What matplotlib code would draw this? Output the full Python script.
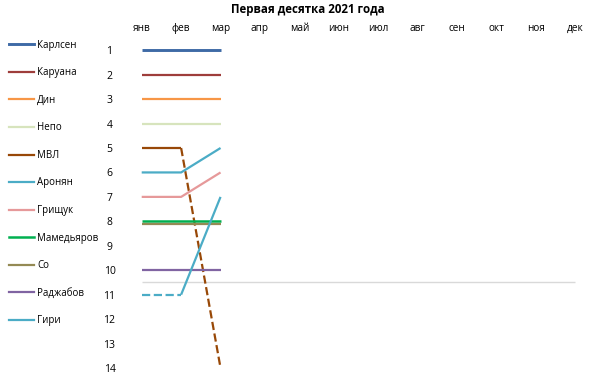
import matplotlib.pyplot as plt
import numpy as np

months = ["янв", "фев", "мар", "апр", "май", "июн", "июл", "авг", "сен", "окт", "ноя", "дек"]
players = ["Карлсен", "Каруана", "Дин", "Непо", "МВЛ", "Аронян", "Грищук",
           "Мамедьяров", "Со", "Раджабов", "Гири"]
ranks = [
    [1, 1, 1],
    [2, 2, 2],
    [3, 3, 3],
    [4, 4, 4],
    [5, 5, 14],
    [6, 6, 5],
    [7, 7, 6],
    [8, 8, 8],
    [8.1, 8.1, 8.1],
    [10, 10, 10],
    [11, 11, 7],
]
# which month-to-month segments are dashed (index of segment start)
dashed = {"МВЛ": [1], "Гири": [0]}
top10_cut = 10.5

colors = ["#3e6aa6", "#9e3d3b", "#f79646", "#d7e4bd", "#984807", "#4bacc6",
          "#e6999a", "#00b050", "#948a54", "#8064a2", "#4bacc6"]
widths = [2.1, 1.6, 1.6, 1.6, 1.6, 1.6, 1.6, 1.8, 1.6, 1.6, 1.6]

plt.rcParams['font.family'] = ['Open Sans', 'DejaVu Sans']

fig = plt.figure(figsize=(5.89, 3.79), dpi=100)
ax = fig.add_axes([122 / 589, 11 / 379, 473 / 589, 330 / 379])

handles = []
for name, r, c, w in zip(players, ranks, colors, widths):
    r = np.array(r, dtype=float)
    x = np.arange(len(r))
    # group consecutive segments with the same style into one line
    styles = ["--" if i in dashed.get(name, []) else "-" for i in range(len(r) - 1)]
    start = 0
    for i in range(1, len(styles) + 1):
        if i == len(styles) or styles[i] != styles[start]:
            ax.plot(x[start:i + 1], r[start:i + 1], color=c, lw=w, ls=styles[start],
                    solid_capstyle="butt", dash_capstyle="butt")
            start = i
    handles.append(ax.plot([], [], color=c, lw=w)[0])

ax.hlines(top10_cut, 0, 11, color="#d9d9d9", lw=1, zorder=0)

ax.set_xlim(-0.5, 11.5)
ax.set_ylim(14, 0.5)
ax.set_xticks(range(len(months)))
ax.set_xticklabels(months, fontsize=7.2)
ax.xaxis.tick_top()
ax.set_yticks(range(1, 15))
ax.tick_params(axis="y", labelsize=7.5, pad=9, length=0)
ax.tick_params(axis="x", length=0, pad=3)
for lbl in ax.get_yticklabels():
    lbl.set_horizontalalignment("center")
for s in ax.spines.values():
    s.set_visible(False)

fig.text(0.522, 0.976, "Первая десятка 2021 года", ha="center", va="center",
         fontsize=8.3, fontweight="bold")

fig.legend(handles, players, loc="upper left", bbox_to_anchor=(0.0, 0.918),
           frameon=False, fontsize=7, handlelength=2.6, handletextpad=0.3,
           labelspacing=1.7, borderaxespad=0.5)

fig.savefig("out.png", dpi=100)
